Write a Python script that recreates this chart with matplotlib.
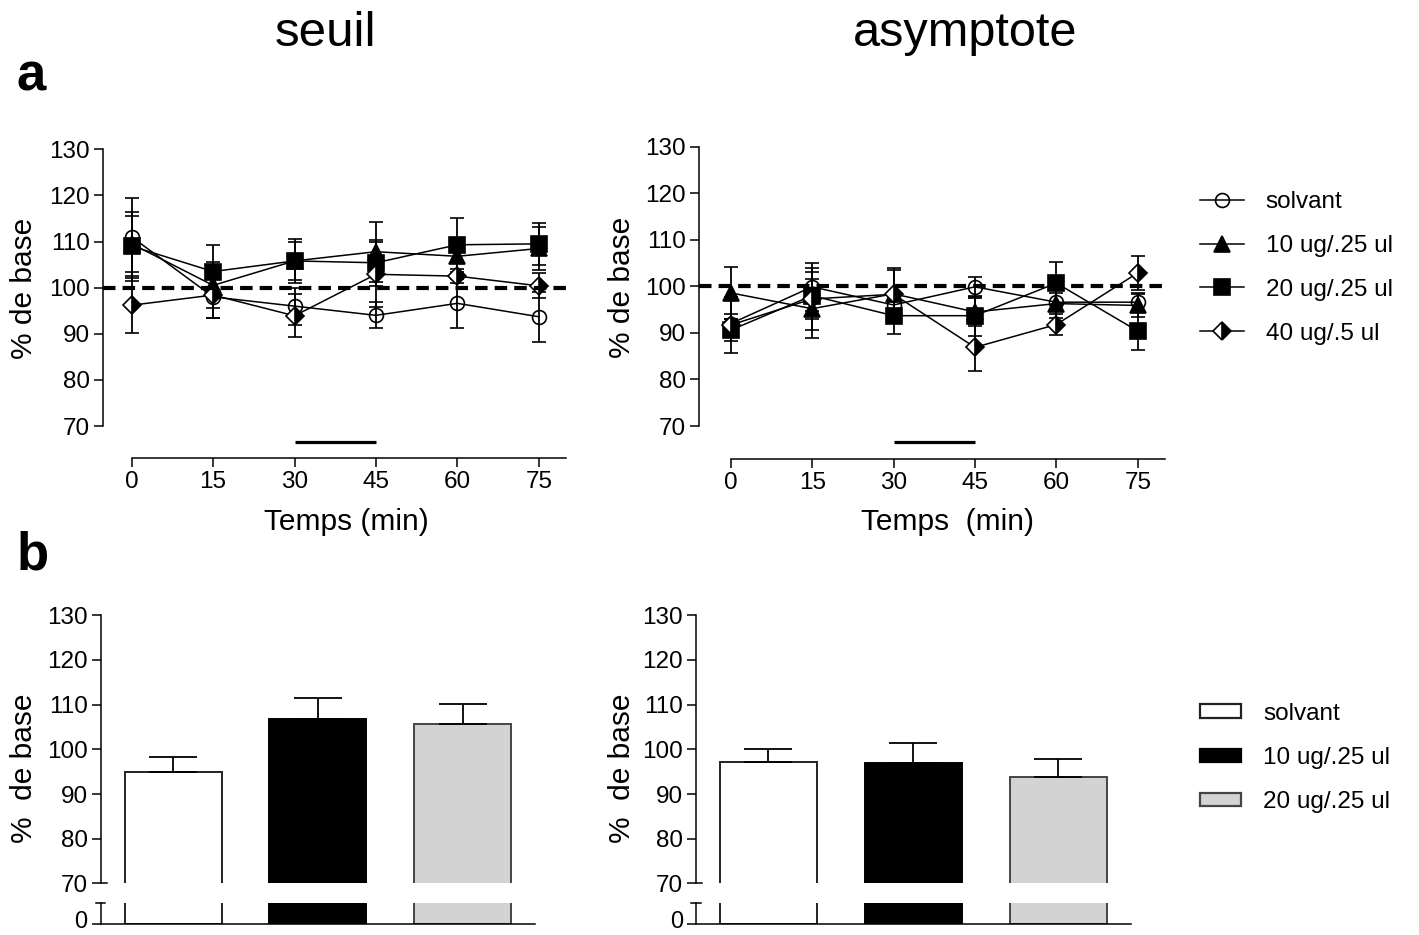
import matplotlib
matplotlib.use("Agg")
import matplotlib.pyplot as plt
from matplotlib.lines import Line2D
from matplotlib.patches import Patch
import numpy as np

plt.rcParams['font.family'] = ['Liberation Sans', 'DejaVu Sans']

# Data
times = [0, 15, 30, 45, 60, 75]
groups = ["solvant", "10 ug/.25 ul", "20 ug/.25 ul", "40 ug/.5 ul"]
treat_window = [30, 45]

# seuil (threshold), % of baseline
seuil_solv = [111.0, 98.0, 96.0, 94.0, 96.6, 93.7]
seuil_solv_err = [8.5, 4.5, 4.0, 2.8, 5.3, 5.4]
seuil_10 = [109.5, 100.5, 105.8, 107.8, 106.8, 108.5]
seuil_10_err = [6.0, 5.0, 4.2, 6.5, 4.0, 4.6]
seuil_20 = [109.0, 103.5, 105.8, 105.4, 109.3, 109.5]
seuil_20_err = [7.5, 5.8, 4.8, 5.0, 5.8, 4.5]
seuil_40 = [96.2, 98.4, 93.9, 102.9, 102.5, 100.4]
seuil_40_err = [6.0, 5.0, 4.7, 7.0, 1.5, 2.7]

# asymptote, % of baseline
asym_solv = [92.0, 99.9, 96.0, 99.9, 96.6, 96.6]
asym_solv_err = [2.0, 5.2, 2.0, 2.2, 2.0, 2.0]
asym_10 = [98.6, 95.2, 98.4, 94.5, 96.3, 95.9]
asym_10_err = [5.6, 6.3, 5.6, 3.0, 3.0, 2.5]
asym_20 = [90.6, 98.0, 93.7, 93.7, 100.7, 90.4]
asym_20_err = [2.3, 5.1, 4.0, 4.3, 4.6, 4.1]
asym_40 = [91.7, 97.3, 98.3, 86.9, 91.8, 102.9]
asym_40_err = [6.0, 6.7, 5.2, 5.0, 2.2, 3.6]

# bar means (30-45 min window)
bar_groups = ["solvant", "10 ug/.25 ul", "20 ug/.25 ul"]
bar_seuil = [95.0, 106.9, 105.7]
bar_seuil_err = [3.3, 4.5, 4.5]
bar_asym = [97.2, 96.9, 93.9]
bar_asym_err = [2.9, 4.6, 3.9]

W, H = 1419, 935
fig = plt.figure(figsize=(W / 100, H / 100), dpi=100)


def px_axes(left, top, width, height):
    return fig.add_axes([left / W, 1 - (top + height) / H, width / W, height / H])


styles = [
    dict(marker="o", markersize=10, markerfacecolor="none", markeredgecolor="black"),
    dict(marker="^", markersize=11, markerfacecolor="black", markeredgecolor="black"),
    dict(marker="s", markersize=11, markerfacecolor="black", markeredgecolor="black"),
    dict(marker="D", markersize=9, fillstyle="right", markerfacecolor="black",
         markerfacecoloralt="white", markeredgecolor="black"),
]

TICK_FS = 17.5
LAB_FS = 21.5


def line_panel(ax, series, xlim_left):
    for i, (vals, errs) in enumerate(series):
        ax.errorbar(times, vals, yerr=errs, color="black", lw=1.1, elinewidth=1.3,
                    capsize=4.7, capthick=1.3, markeredgewidth=1.2, zorder=3 + i,
                    clip_on=False, **styles[i])
    ax.axhline(100, color="black", lw=3.0, ls=(0, (3, 1.7)), zorder=10)
    ax.plot(treat_window, [66.6, 66.6], color="black", lw=2.3, solid_capstyle="butt")
    ax.set_xlim(xlim_left, 80)
    ax.set_ylim(63, 132)
    ax.set_xticks(times)
    ax.set_yticks(range(70, 131, 10))
    for s in ("top", "right"):
        ax.spines[s].set_visible(False)
    ax.spines["left"].set_bounds(70, 130)
    ax.spines["bottom"].set_bounds(0, 80)
    for s in ("left", "bottom"):
        ax.spines[s].set_linewidth(1.1)
    ax.tick_params(axis="both", direction="out", length=6.5, width=1.1,
                   labelsize=TICK_FS, pad=3)


ax1 = px_axes(103.3, 140.1, 462.6, 318.2)
line_panel(ax1, [(seuil_solv, seuil_solv_err), (seuil_10, seuil_10_err),
                 (seuil_20, seuil_20_err), (seuil_40, seuil_40_err)], -5.23)
ax2 = px_axes(699.3, 137.4, 465.6, 321.2)
line_panel(ax2, [(asym_solv, asym_solv_err), (asym_10, asym_10_err),
                 (asym_20, asym_20_err), (asym_40, asym_40_err)], -5.79)

bar_colors = ["white", "black", "#d3d3d3"]
bar_edges = ["#222222", "black", "#444444"]


def bar_panel(left, width, vals, errs):
    top_ax = px_axes(left, 615.3, width, 268.1)
    low_ax = px_axes(left, 903.0, width, 21.0)
    x = np.arange(len(vals))
    for ax in (top_ax, low_ax):
        ax.bar(x, vals, width=0.67, color=bar_colors, edgecolor=bar_edges, linewidth=1.4)
        ax.set_xlim(-0.5, 2.5)
        for s in ("top", "right"):
            ax.spines[s].set_visible(False)
        ax.spines["left"].set_linewidth(1.1)
        ax.spines["bottom"].set_linewidth(1.1)
        ax.set_xticks([])
        ax.tick_params(axis="y", direction="out", length=6.5, width=1.1,
                       labelsize=TICK_FS, pad=3)
    top_ax.errorbar(x, vals, yerr=[np.zeros(len(errs)), errs], fmt="none",
                    ecolor="black", elinewidth=1.3, capsize=17, capthick=1.3)
    top_ax.set_ylim(70, 130)
    top_ax.set_yticks(range(70, 131, 10))
    top_ax.spines["bottom"].set_visible(False)
    low_ax.set_ylim(0, 4.7)
    low_ax.set_yticks([0])
    low_ax.set_yticklabels([""])
    # "0" label, nudged up a little so it stays inside the figure
    low_ax.annotate("0", xy=(0, 0), xycoords=("axes fraction", "data"),
                    xytext=(-9.5, 1.5), textcoords="offset points",
                    ha="right", va="center", fontsize=TICK_FS - 0.5)
    # break marks on the y axis
    top_ax.plot([0, 0.014], [0, 0], transform=top_ax.transAxes, color="black",
                lw=1.1, clip_on=False)
    low_ax.plot([-0.011, 0.011], [1, 1], transform=low_ax.transAxes, color="black",
                lw=1.1, clip_on=False)
    return top_ax, low_ax


b1 = bar_panel(100.7, 434.3, bar_seuil, bar_seuil_err)
b2 = bar_panel(696.0, 434.7, bar_asym, bar_asym_err)

# Titles / panel letters
fig.text(325 / W, 1 - 45.7 / H, "seuil", fontsize=35.5, ha="center", va="baseline")
fig.text(965 / W, 1 - 45.7 / H, "asymptote", fontsize=35, ha="center", va="baseline")
fig.text(17 / W, 1 - 90.7 / H, "a", fontsize=38, fontweight="bold", ha="left", va="baseline")
fig.text(17 / W, 1 - 569 / H, "b", fontsize=38, fontweight="bold", ha="left", va="baseline")

# Axis labels
fig.text(24 / W, 1 - 288 / H, "% de base", fontsize=LAB_FS, rotation=90, ha="center", va="center")
fig.text(622 / W, 1 - 287 / H, "% de base", fontsize=LAB_FS, rotation=90, ha="center", va="center")
fig.text(24 / W, 1 - 768 / H, "%  de base", fontsize=LAB_FS, rotation=90, ha="center", va="center")
fig.text(622 / W, 1 - 768 / H, "%  de base", fontsize=LAB_FS, rotation=90, ha="center", va="center")
fig.text(346 / W, 1 - 530 / H, "Temps (min)", fontsize=LAB_FS, ha="center", va="baseline")
fig.text(947 / W, 1 - 530 / H, "Temps  (min)", fontsize=LAB_FS, ha="center", va="baseline")

# Legends
line_handles = [Line2D([], [], color="black", lw=1.1, markeredgewidth=1.2, **st) for st in styles]
fig.legend(line_handles, groups, loc="center left", bbox_to_anchor=(1200 / W, 1 - 268 / H),
           frameon=False, borderpad=0, borderaxespad=0, fontsize=17.5, handlelength=1.8,
           handletextpad=0.9, labelspacing=0.9)
bar_handles = [Patch(facecolor=c, edgecolor=e, linewidth=1.6) for c, e in zip(bar_colors, bar_edges)]
fig.legend(bar_handles, bar_groups, loc="center left", bbox_to_anchor=(1200 / W, 1 - 758 / H),
           frameon=False, borderpad=0, borderaxespad=0, fontsize=17.5, handlelength=1.7,
           handleheight=0.45, handletextpad=0.9, labelspacing=0.92)

fig.savefig("out.png", dpi=100)
